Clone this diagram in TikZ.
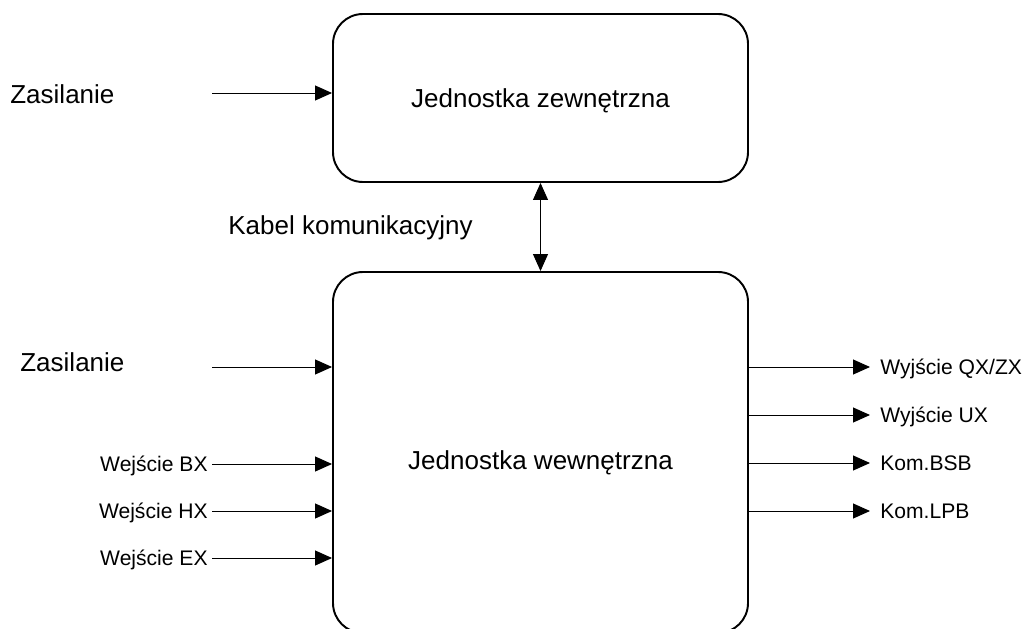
\documentclass[tikz,border=0pt]{standalone}
\usepackage{fontspec}
\setmainfont{Liberation Sans}
\usetikzlibrary{arrows.meta, positioning, calc}
\tikzset{
	unit/.style={rectangle, rounded corners=0.6cm, draw=black, line width=1.1pt, minimum width=8.3cm, align=center, font=\fontsize{14.8}{18}\selectfont, text depth=0pt},
	biglbl/.style={font=\fontsize{14.8}{18}\selectfont, inner sep=0pt, text depth=0pt},
	smalllbl/.style={font=\fontsize{12}{14}\selectfont, inner sep=0pt, text depth=0pt},
	sig/.style={-{Triangle[length=0.34cm, width=0.3cm]}, line width=0.55pt},
	bisig/.style={{Triangle[length=0.34cm, width=0.3cm]}-{Triangle[length=0.34cm, width=0.3cm]}, line width=0.55pt},
}

\begin{document}
\begin{tikzpicture}
	\useasboundingbox (0,0) rectangle (20.56,-12.56);
	% units
	\node[unit, minimum height=3.36cm] (zew) at (10.81,-1.96) {Jednostka zewnętrzna};
	\node[unit, minimum height=7.22cm, label={[biglbl, yshift=-0.15cm]center:Jednostka wewnętrzna}] (wew) at (10.81,-9.05) {};
	\draw[bisig] (zew.south) -- (wew.south |- wew.north);
	\node[biglbl, anchor=west] (kabel) at (4.56,-4.5) {Kabel komunikacyjny};
	% power
	\node[biglbl, anchor=west] (zas1) at (0.2,-1.88) {Zasilanie};
	\coordinate (pz1) at (4.24,-1.86);
	\draw[sig] (pz1) -- (pz1 -| zew.west);
	\node[biglbl, anchor=west] (zas2) at (0.4,-7.25) {Zasilanie};
	\coordinate (pz2) at (4.24,-7.34);
	\draw[sig] (pz2) -- (pz2 -| wew.west);
	% inputs
	\coordinate (iBX) at (4.24,-9.28);
	\coordinate (iHX) at (4.24,-10.22);
	\coordinate (iEX) at (4.24,-11.16);
	\draw[sig] (iBX) -- (iBX -| wew.west);
	\draw[sig] (iHX) -- (iHX -| wew.west);
	\draw[sig] (iEX) -- (iEX -| wew.west);
	\node[smalllbl, left=0.08cm of iBX] (wBX) {Wejście BX};
	\node[smalllbl, left=0.08cm of iHX] (wHX) {Wejście HX};
	\node[smalllbl, left=0.08cm of iEX] (wEX) {Wejście EX};
	% outputs
	\coordinate (oQX) at (17.4,-7.34);
	\coordinate (oUX) at (17.4,-8.30);
	\coordinate (oBSB) at (17.4,-9.26);
	\coordinate (oLPB) at (17.4,-10.22);
	\draw[sig] (oQX -| wew.east) -- (oQX);
	\draw[sig] (oUX -| wew.east) -- (oUX);
	\draw[sig] (oBSB -| wew.east) -- (oBSB);
	\draw[sig] (oLPB -| wew.east) -- (oLPB);
	\node[smalllbl, right=0.2cm of oQX] (yQX) {Wyjście QX/ZX};
	\node[smalllbl, right=0.2cm of oUX] (yUX) {Wyjście UX};
	\node[smalllbl, right=0.2cm of oBSB] (kBSB) {Kom.BSB};
	\node[smalllbl, right=0.2cm of oLPB] (kLPB) {Kom.LPB};
\end{tikzpicture}
\end{document}
